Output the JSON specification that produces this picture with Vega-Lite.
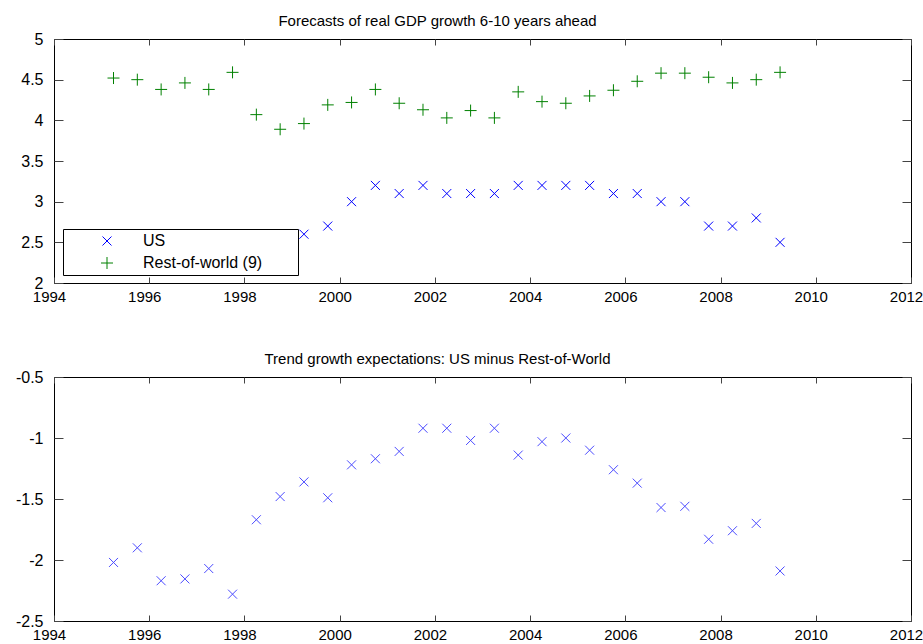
{
  "$schema": "https://vega.github.io/schema/vega-lite/v6.json",
  "background": "white",
  "padding": {"left": 14, "top": 13, "right": 0, "bottom": 0},
  "spacing": 46,
  "config": {
    "font": "Liberation Sans",
    "view": {"stroke": "black", "strokeWidth": 1},
    "axis": {
      "grid": false, "domain": false,
      "tickColor": "#444", "tickWidth": 1,
      "labelColor": "black", "labelFontSize": 16, "labelFont": "Liberation Sans",
      "labelFlush": false, "labelOverlap": false
    },
    "axisX": {"labelFontSize": 15},
    "title": {
      "font": "Liberation Sans", "fontSize": 15, "fontWeight": "normal", "color": "black",
      "anchor": "middle", "frame": "group", "baseline": "alphabetic", "offset": 2, "dx": -45
    },
    "legend": {
      "orient": "none", "legendX": 9, "legendY": 190,
      "fillColor": "white", "strokeColor": "black", "strokeWidth": 1,
      "padding": 4, "rowPadding": 6, "symbolOffset": 32, "labelOffset": 28,
      "labelFont": "Liberation Sans", "labelFontSize": 16, "labelColor": "black", "labelLimit": 400,
      "symbolSize": 144, "symbolStrokeWidth": 1
    }
  },
  "datasets": {
    "forecasts": [
      {"date": 1995.25, "series": "US", "growth": 2.5},
      {"date": 1995.75, "series": "US", "growth": 2.6},
      {"date": 1996.25, "series": "US", "growth": 2.2},
      {"date": 1996.75, "series": "US", "growth": 2.3},
      {"date": 1997.25, "series": "US", "growth": 2.3},
      {"date": 1997.75, "series": "US", "growth": 2.3},
      {"date": 1998.25, "series": "US", "growth": 2.4},
      {"date": 1998.75, "series": "US", "growth": 2.4},
      {"date": 1999.25, "series": "US", "growth": 2.6},
      {"date": 1999.75, "series": "US", "growth": 2.7},
      {"date": 2000.25, "series": "US", "growth": 3.0},
      {"date": 2000.75, "series": "US", "growth": 3.2},
      {"date": 2001.25, "series": "US", "growth": 3.1},
      {"date": 2001.75, "series": "US", "growth": 3.2},
      {"date": 2002.25, "series": "US", "growth": 3.1},
      {"date": 2002.75, "series": "US", "growth": 3.1},
      {"date": 2003.25, "series": "US", "growth": 3.1},
      {"date": 2003.75, "series": "US", "growth": 3.2},
      {"date": 2004.25, "series": "US", "growth": 3.2},
      {"date": 2004.75, "series": "US", "growth": 3.2},
      {"date": 2005.25, "series": "US", "growth": 3.2},
      {"date": 2005.75, "series": "US", "growth": 3.1},
      {"date": 2006.25, "series": "US", "growth": 3.1},
      {"date": 2006.75, "series": "US", "growth": 3.0},
      {"date": 2007.25, "series": "US", "growth": 3.0},
      {"date": 2007.75, "series": "US", "growth": 2.7},
      {"date": 2008.25, "series": "US", "growth": 2.7},
      {"date": 2008.75, "series": "US", "growth": 2.8},
      {"date": 2009.25, "series": "US", "growth": 2.5},
      {"date": 1995.25, "series": "Rest-of-world (9)", "growth": 4.52},
      {"date": 1995.75, "series": "Rest-of-world (9)", "growth": 4.50},
      {"date": 1996.25, "series": "Rest-of-world (9)", "growth": 4.38},
      {"date": 1996.75, "series": "Rest-of-world (9)", "growth": 4.46},
      {"date": 1997.25, "series": "Rest-of-world (9)", "growth": 4.38},
      {"date": 1997.75, "series": "Rest-of-world (9)", "growth": 4.59},
      {"date": 1998.25, "series": "Rest-of-world (9)", "growth": 4.07},
      {"date": 1998.75, "series": "Rest-of-world (9)", "growth": 3.89},
      {"date": 1999.25, "series": "Rest-of-world (9)", "growth": 3.96},
      {"date": 1999.75, "series": "Rest-of-world (9)", "growth": 4.19},
      {"date": 2000.25, "series": "Rest-of-world (9)", "growth": 4.22},
      {"date": 2000.75, "series": "Rest-of-world (9)", "growth": 4.38},
      {"date": 2001.25, "series": "Rest-of-world (9)", "growth": 4.21},
      {"date": 2001.75, "series": "Rest-of-world (9)", "growth": 4.13},
      {"date": 2002.25, "series": "Rest-of-world (9)", "growth": 4.03},
      {"date": 2002.75, "series": "Rest-of-world (9)", "growth": 4.12},
      {"date": 2003.25, "series": "Rest-of-world (9)", "growth": 4.03},
      {"date": 2003.75, "series": "Rest-of-world (9)", "growth": 4.35},
      {"date": 2004.25, "series": "Rest-of-world (9)", "growth": 4.23},
      {"date": 2004.75, "series": "Rest-of-world (9)", "growth": 4.21},
      {"date": 2005.25, "series": "Rest-of-world (9)", "growth": 4.30},
      {"date": 2005.75, "series": "Rest-of-world (9)", "growth": 4.37},
      {"date": 2006.25, "series": "Rest-of-world (9)", "growth": 4.48},
      {"date": 2006.75, "series": "Rest-of-world (9)", "growth": 4.58},
      {"date": 2007.25, "series": "Rest-of-world (9)", "growth": 4.58},
      {"date": 2007.75, "series": "Rest-of-world (9)", "growth": 4.53},
      {"date": 2008.25, "series": "Rest-of-world (9)", "growth": 4.46},
      {"date": 2008.75, "series": "Rest-of-world (9)", "growth": 4.50},
      {"date": 2009.25, "series": "Rest-of-world (9)", "growth": 4.59}
    ],
    "gap": [
      {"date": 1995.25, "gap": -2.02},
      {"date": 1995.75, "gap": -1.90},
      {"date": 1996.25, "gap": -2.17},
      {"date": 1996.75, "gap": -2.155},
      {"date": 1997.25, "gap": -2.07},
      {"date": 1997.75, "gap": -2.28},
      {"date": 1998.25, "gap": -1.67},
      {"date": 1998.75, "gap": -1.48},
      {"date": 1999.25, "gap": -1.36},
      {"date": 1999.75, "gap": -1.49},
      {"date": 2000.25, "gap": -1.22},
      {"date": 2000.75, "gap": -1.17},
      {"date": 2001.25, "gap": -1.11},
      {"date": 2001.75, "gap": -0.92},
      {"date": 2002.25, "gap": -0.92},
      {"date": 2002.75, "gap": -1.02},
      {"date": 2003.25, "gap": -0.92},
      {"date": 2003.75, "gap": -1.14},
      {"date": 2004.25, "gap": -1.03},
      {"date": 2004.75, "gap": -1.00},
      {"date": 2005.25, "gap": -1.10},
      {"date": 2005.75, "gap": -1.26},
      {"date": 2006.25, "gap": -1.37},
      {"date": 2006.75, "gap": -1.57},
      {"date": 2007.25, "gap": -1.56},
      {"date": 2007.75, "gap": -1.83},
      {"date": 2008.25, "gap": -1.76},
      {"date": 2008.75, "gap": -1.70},
      {"date": 2009.25, "gap": -2.09}
    ]
  },
  "vconcat": [
    {
      "title": "Forecasts of real GDP growth 6-10 years ahead",
      "width": 857,
      "height": 244,
      "data": {"name": "forecasts"},
      "layer": [
        {
          "mark": {"type": "point", "filled": false, "strokeWidth": 1, "size": 144, "opacity": 1},
          "encoding": {
            "x": {
              "field": "date", "type": "quantitative", "title": null,
              "scale": {"domain": [1994, 2012], "nice": false, "zero": false},
              "axis": {"orient": "bottom", "values": [1994, 1996, 1998, 2000, 2002, 2004, 2006, 2008, 2010, 2012], "format": "d", "tickSize": -6, "labelPadding": 12, "labelOffset": -5}
            },
            "y": {
              "field": "growth", "type": "quantitative", "title": null,
              "scale": {"domain": [2, 5], "nice": false, "zero": false},
              "axis": {"orient": "left", "values": [2, 2.5, 3, 3.5, 4, 4.5, 5], "format": "~g", "tickSize": -9, "labelPadding": 20}
            },
            "color": {
              "field": "series", "type": "nominal", "title": null,
              "scale": {"domain": ["US", "Rest-of-world (9)"], "range": ["#0000ff", "#008000"]},
              "legend": {"labelExpr": "datum.label + '\u00a0\u00a0\u00a0\u00a0\u00a0\u00a0\u00a0\u200b'"}
            },
            "shape": {
              "field": "series", "type": "nominal", "title": null,
              "scale": {"domain": ["US", "Rest-of-world (9)"], "range": ["M-0.75,-0.75L0.75,0.75M-0.75,0.75L0.75,-0.75", "M-1,0L1,0M0,-1L0,1"]},
              "legend": {"labelExpr": "datum.label + '\u00a0\u00a0\u00a0\u00a0\u00a0\u00a0\u00a0\u200b'"}
            }
          }
        },
        {
          "mark": {"type": "point", "opacity": 0},
          "encoding": {
            "x": {
              "field": "date", "type": "quantitative", "title": null,
              "axis": {"orient": "top", "values": [1994, 1996, 1998, 2000, 2002, 2004, 2006, 2008, 2010, 2012], "labels": false, "tickSize": -6}
            },
            "y": {
              "field": "growth", "type": "quantitative", "title": null,
              "axis": {"orient": "right", "values": [2, 2.5, 3, 3.5, 4, 4.5, 5], "labels": false, "tickSize": -9}
            }
          }
        }
      ],
      "resolve": {"axis": {"x": "independent", "y": "independent"}}
    },
    {
      "title": "Trend growth expectations: US minus Rest-of-World",
      "width": 857,
      "height": 244,
      "data": {"name": "gap"},
      "layer": [
        {
          "mark": {"type": "point", "filled": false, "strokeWidth": 1, "size": 144, "color": "#0000ff", "shape": "M-0.75,-0.75L0.75,0.75M-0.75,0.75L0.75,-0.75"},
          "encoding": {
            "x": {
              "field": "date", "type": "quantitative", "title": null,
              "scale": {"domain": [1994, 2012], "nice": false, "zero": false},
              "axis": {"orient": "bottom", "values": [1994, 1996, 1998, 2000, 2002, 2004, 2006, 2008, 2010, 2012], "format": "d", "tickSize": -6, "labelPadding": 12, "labelOffset": -5}
            },
            "y": {
              "field": "gap", "type": "quantitative", "title": null,
              "scale": {"domain": [-2.5, -0.5], "nice": false, "zero": false},
              "axis": {"orient": "left", "values": [-2.5, -2, -1.5, -1, -0.5], "format": "~g", "labelExpr": "replace(datum.label, '\u2212', '-')", "tickSize": -9, "labelPadding": 20}
            }
          }
        },
        {
          "mark": {"type": "point", "opacity": 0},
          "encoding": {
            "x": {
              "field": "date", "type": "quantitative", "title": null,
              "axis": {"orient": "top", "values": [1994, 1996, 1998, 2000, 2002, 2004, 2006, 2008, 2010, 2012], "labels": false, "tickSize": -6}
            },
            "y": {
              "field": "gap", "type": "quantitative", "title": null,
              "axis": {"orient": "right", "values": [-2.5, -2, -1.5, -1, -0.5], "labels": false, "tickSize": -9}
            }
          }
        }
      ],
      "resolve": {"axis": {"x": "independent", "y": "independent"}}
    }
  ]
}
